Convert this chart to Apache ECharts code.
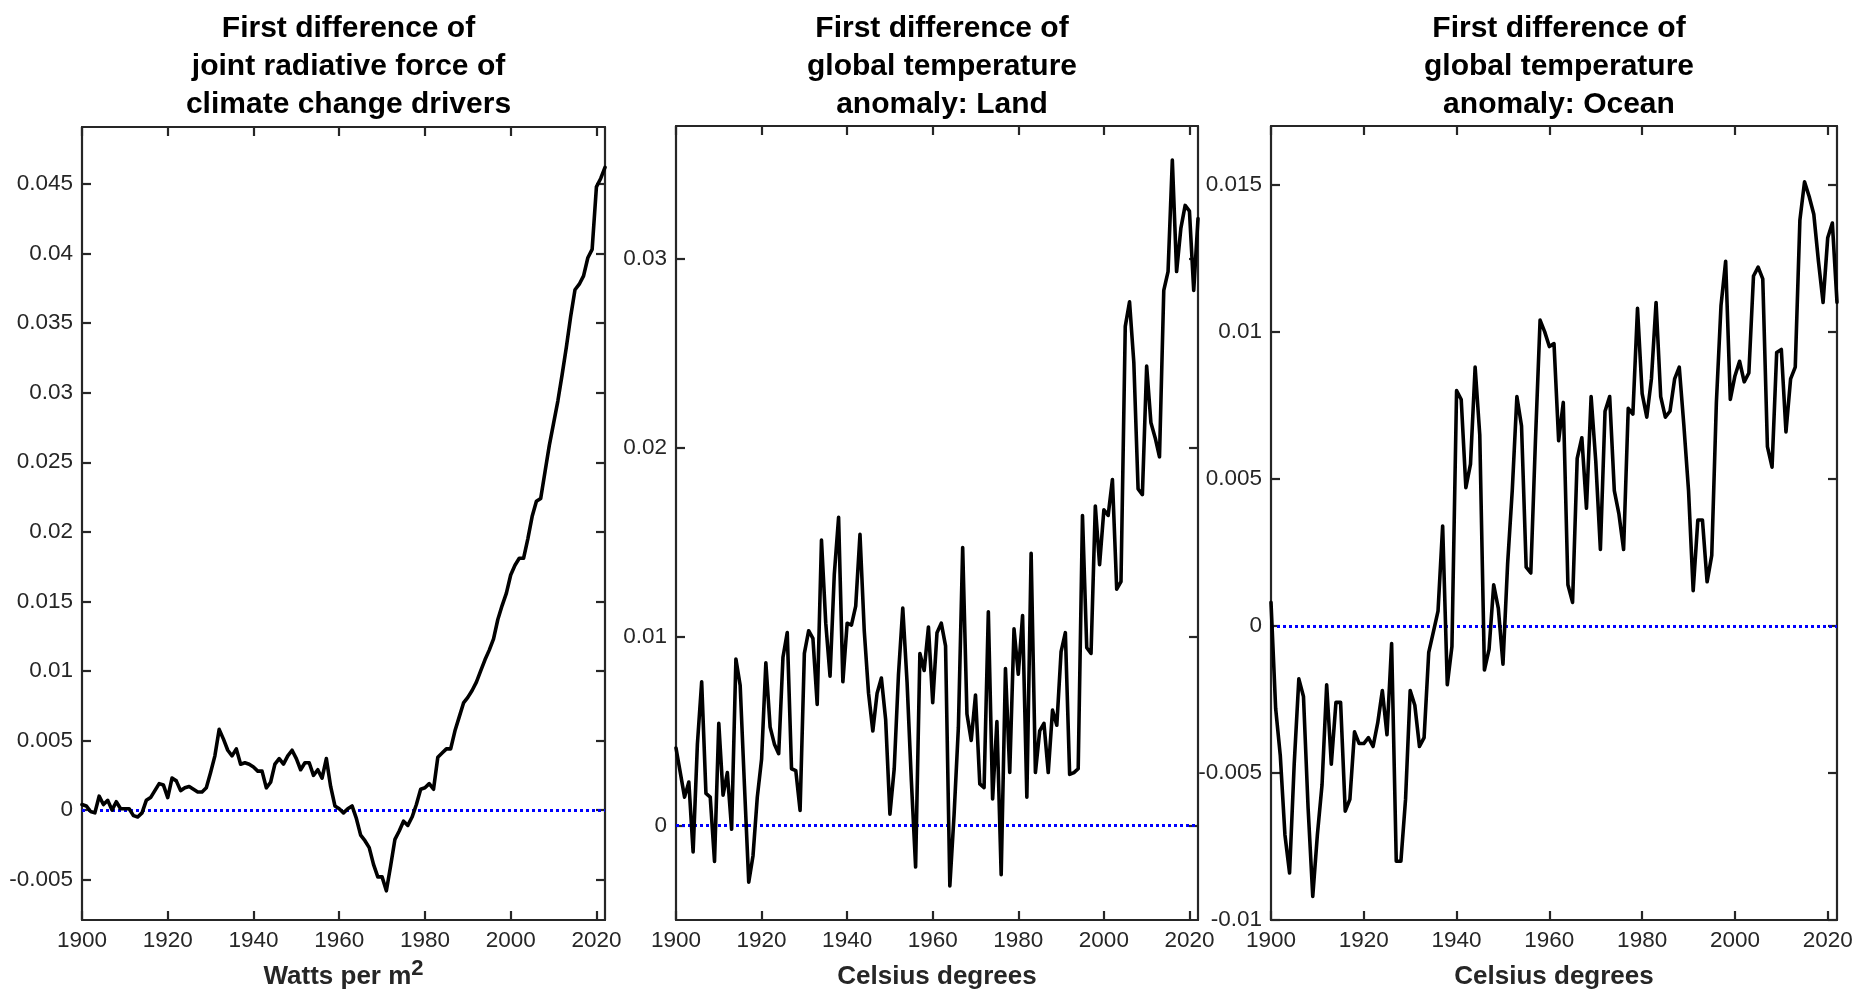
<!DOCTYPE html>
<html>
<head>
<meta charset="utf-8">
<script src="https://cdn.jsdelivr.net/npm/echarts@6/dist/echarts.min.js"></script>
<style>html,body{margin:0;padding:0;background:#fff}#c{width:1868px;height:995px}</style>
</head>
<body>
<div id="c"></div>
<script>
// ---------- data ----------
const years = [];
for (let y = 1900; y <= 2022; y++) years.push(y);

const forcing = [
 0.0004,0.0003,-0.0001,-0.0002,0.0010,0.0004,0.0007,0.0000,0.0006,0.0001,
 0.0001,0.0001,-0.0004,-0.0005,-0.0002,0.0007,0.0009,0.0014,0.0019,0.0018,
 0.0009,0.0023,0.0021,0.0014,0.0016,0.0017,0.0015,0.0013,0.0013,0.0016,
 0.0027,0.0039,0.0058,0.0051,0.0043,0.0039,0.0044,0.0033,0.0034,0.0033,
 0.0031,0.0028,0.0028,0.0016,0.0020,0.0033,0.0037,0.0033,0.0039,0.0043,
 0.0037,0.0029,0.0034,0.0034,0.0025,0.0029,0.0023,0.0037,0.0017,0.0003,
 0.0001,-0.0002,0.0001,0.0003,-0.0006,-0.0018,-0.0022,-0.0027,-0.0039,-0.0048,
 -0.0048,-0.0058,-0.0040,-0.0021,-0.0015,-0.0008,-0.0011,-0.0005,0.0004,0.0015,
 0.0016,0.0019,0.0015,0.0038,0.0041,0.0044,0.0044,0.0057,0.0067,0.0077,
 0.0081,0.0086,0.0092,0.0100,0.0108,0.0115,0.0123,0.0137,0.0147,0.0156,
 0.0169,0.0176,0.0181,0.0181,0.0195,0.0211,0.0222,0.0224,0.0243,0.0262,
 0.0278,0.0294,0.0313,0.0333,0.0355,0.0374,0.0378,0.0384,0.0397,0.0403,
 0.0448,0.0454,0.0462
];

const land = [
 0.0041,0.0028,0.0015,0.0023,-0.0014,0.0043,0.0076,0.0017,0.0015,-0.0019,
 0.0054,0.0016,0.0028,-0.0002,0.0088,0.0074,0.0021,-0.0030,-0.0016,0.0015,
 0.0035,0.0086,0.0052,0.0043,0.0038,0.0089,0.0102,0.0030,0.0029,0.0008,
 0.0091,0.0103,0.0099,0.0064,0.0151,0.0107,0.0079,0.0133,0.0163,0.0076,
 0.0107,0.0106,0.0116,0.0154,0.0103,0.0070,0.0050,0.0070,0.0078,0.0056,
 0.0006,0.0030,0.0080,0.0115,0.0076,0.0024,-0.0022,0.0091,0.0082,0.0105,
 0.0065,0.0102,0.0107,0.0095,-0.0032,0.0006,0.0052,0.0147,0.0059,0.0045,
 0.0069,0.0022,0.0020,0.0113,0.0014,0.0055,-0.0026,0.0083,0.0028,0.0104,
 0.0080,0.0111,0.0015,0.0144,0.0028,0.0050,0.0054,0.0028,0.0061,0.0053,
 0.0092,0.0102,0.0027,0.0028,0.0030,0.0164,0.0094,0.0091,0.0169,0.0138,
 0.0167,0.0164,0.0183,0.0125,0.0129,0.0264,0.0277,0.0245,0.0178,0.0175,
 0.0243,0.0213,0.0205,0.0195,0.0283,0.0293,0.0352,0.0293,0.0316,0.0328,
 0.0325,0.0283,0.0321
];

const ocean = [
 0.0008,-0.0028,-0.0044,-0.0071,-0.0084,-0.0047,-0.0018,-0.0024,-0.0062,-0.0092,
 -0.0071,-0.0054,-0.0020,-0.0047,-0.0026,-0.0026,-0.0063,-0.0059,-0.0036,-0.0040,
 -0.0040,-0.0038,-0.0041,-0.0033,-0.0022,-0.0037,-0.0006,-0.0080,-0.0080,-0.0059,
 -0.0022,-0.0027,-0.0041,-0.0038,-0.0009,-0.0002,0.0005,0.0034,-0.0020,-0.0007,
 0.0080,0.0077,0.0047,0.0055,0.0088,0.0065,-0.0015,-0.0008,0.0014,0.0006,
 -0.0013,0.0021,0.0046,0.0078,0.0068,0.0020,0.0018,0.0063,0.0104,0.0100,
 0.0095,0.0096,0.0063,0.0076,0.0014,0.0008,0.0057,0.0064,0.0040,0.0078,
 0.0056,0.0026,0.0073,0.0078,0.0046,0.0038,0.0026,0.0074,0.0072,0.0108,
 0.0079,0.0071,0.0084,0.0110,0.0078,0.0071,0.0073,0.0084,0.0088,0.0068,
 0.0046,0.0012,0.0036,0.0036,0.0015,0.0024,0.0076,0.0109,0.0124,0.0077,
 0.0085,0.0090,0.0083,0.0086,0.0119,0.0122,0.0118,0.0061,0.0054,0.0093,
 0.0094,0.0066,0.0084,0.0088,0.0138,0.0151,0.0146,0.0140,0.0124,0.0110,
 0.0132,0.0137,0.0110
];

const xTicks = [1900, 1920, 1940, 1960, 1980, 2000, 2020];
const yTicks1 = [-0.005, 0, 0.005, 0.01, 0.015, 0.02, 0.025, 0.03, 0.035, 0.04, 0.045];
const yTicks2 = [0, 0.01, 0.02, 0.03];
const yTicks3 = [-0.01, -0.005, 0, 0.005, 0.01, 0.015];

const titles = [
  'First difference of\njoint radiative force of\nclimate change drivers',
  'First difference of\nglobal temperature\nanomaly: Land',
  'First difference of\nglobal temperature\nanomaly: Ocean'
];
const xNames = ['{a|Watts per m}{s|2}', '{a|Celsius degrees}', '{a|Celsius degrees}'];

// ---------- layout / style ----------
const FONT = '"Liberation Sans", Arial, Helvetica, sans-serif';
const INK = '#262626';
const panels = [
  { left: 82,  top: 127, width: 523, height: 794, ymin: -0.0079, ymax: 0.0491, yTicks: yTicks1, values: forcing },
  { left: 676, top: 126, width: 522, height: 795, ymin: -0.005,  ymax: 0.037,  yTicks: yTicks2, values: land },
  { left: 1271, top: 126, width: 566, height: 795, ymin: -0.01,  ymax: 0.017,  yTicks: yTicks3, values: ocean }
];

const fmt = v => String(+v.toFixed(4));
const axisLine = { show: true, onZero: false, lineStyle: { color: INK, width: 2.2 } };
const grid = [], xAxis = [], yAxis = [], series = [], title = [];

panels.forEach((p, i) => {
  grid.push({ left: p.left, top: p.top, width: p.width, height: p.height, containLabel: false });
  title.push({
    text: titles[i], left: p.left + p.width / 2, top: 5, textAlign: 'center',
    textStyle: { fontSize: 30, fontWeight: 'bold', color: '#000', lineHeight: 38, fontFamily: FONT }
  });
  xAxis.push({
    type: 'value', gridIndex: i, min: 1900, max: 2022, position: 'bottom',
    axisLine, splitLine: { show: false },
    axisTick: { show: true, inside: true, length: 9, customValues: xTicks, lineStyle: { color: INK, width: 2.2 } },
    axisLabel: { customValues: xTicks, formatter: v => String(v), fontSize: 22.5, color: INK, margin: 9, fontFamily: FONT },
    name: xNames[i], nameLocation: 'middle', nameGap: 38,
    nameTextStyle: {
      fontFamily: FONT,
      rich: {
        a: { fontSize: 26, fontWeight: 'bold', color: INK, fontFamily: FONT, lineHeight: 38 },
        s: { fontSize: 22, fontWeight: 'bold', color: INK, fontFamily: FONT, lineHeight: 18, verticalAlign: 'top' }
      }
    }
  });
  xAxis.push({
    type: 'value', gridIndex: i, min: 1900, max: 2022, position: 'top',
    axisLine, splitLine: { show: false },
    axisTick: { show: true, inside: true, length: 9, customValues: xTicks, lineStyle: { color: INK, width: 2.2 } },
    axisLabel: { show: false }
  });
  yAxis.push({
    type: 'value', gridIndex: i, min: p.ymin, max: p.ymax, position: 'left',
    axisLine, splitLine: { show: false },
    axisTick: { show: true, inside: true, length: 9, customValues: p.yTicks, lineStyle: { color: INK, width: 2.2 } },
    axisLabel: { customValues: p.yTicks, formatter: fmt, fontSize: 22.5, color: INK, margin: 9, fontFamily: FONT }
  });
  yAxis.push({
    type: 'value', gridIndex: i, min: p.ymin, max: p.ymax, position: 'right',
    axisLine, splitLine: { show: false },
    axisTick: { show: true, inside: true, length: 9, customValues: p.yTicks, lineStyle: { color: INK, width: 2.2 } },
    axisLabel: { show: false }
  });
  series.push({
    type: 'line', xAxisIndex: 2 * i, yAxisIndex: 2 * i,
    data: years.map((y, j) => [y, p.values[j]]),
    showSymbol: false, symbol: 'none', smooth: false,
    lineStyle: { color: '#000', width: 3.6, join: 'round', cap: 'round' },
    z: 3,
    markLine: {
      silent: true, symbol: 'none', label: { show: false },
      lineStyle: { color: '#0000ff', width: 3, type: [3, 3] },
      data: [{ yAxis: 0 }], z: 2
    }
  });
});

const chart = echarts.init(document.getElementById('c'), null, { renderer: 'canvas' });
chart.setOption({ animation: false, backgroundColor: '#fff', title, grid, xAxis, yAxis, series });
</script>
</body>
</html>
